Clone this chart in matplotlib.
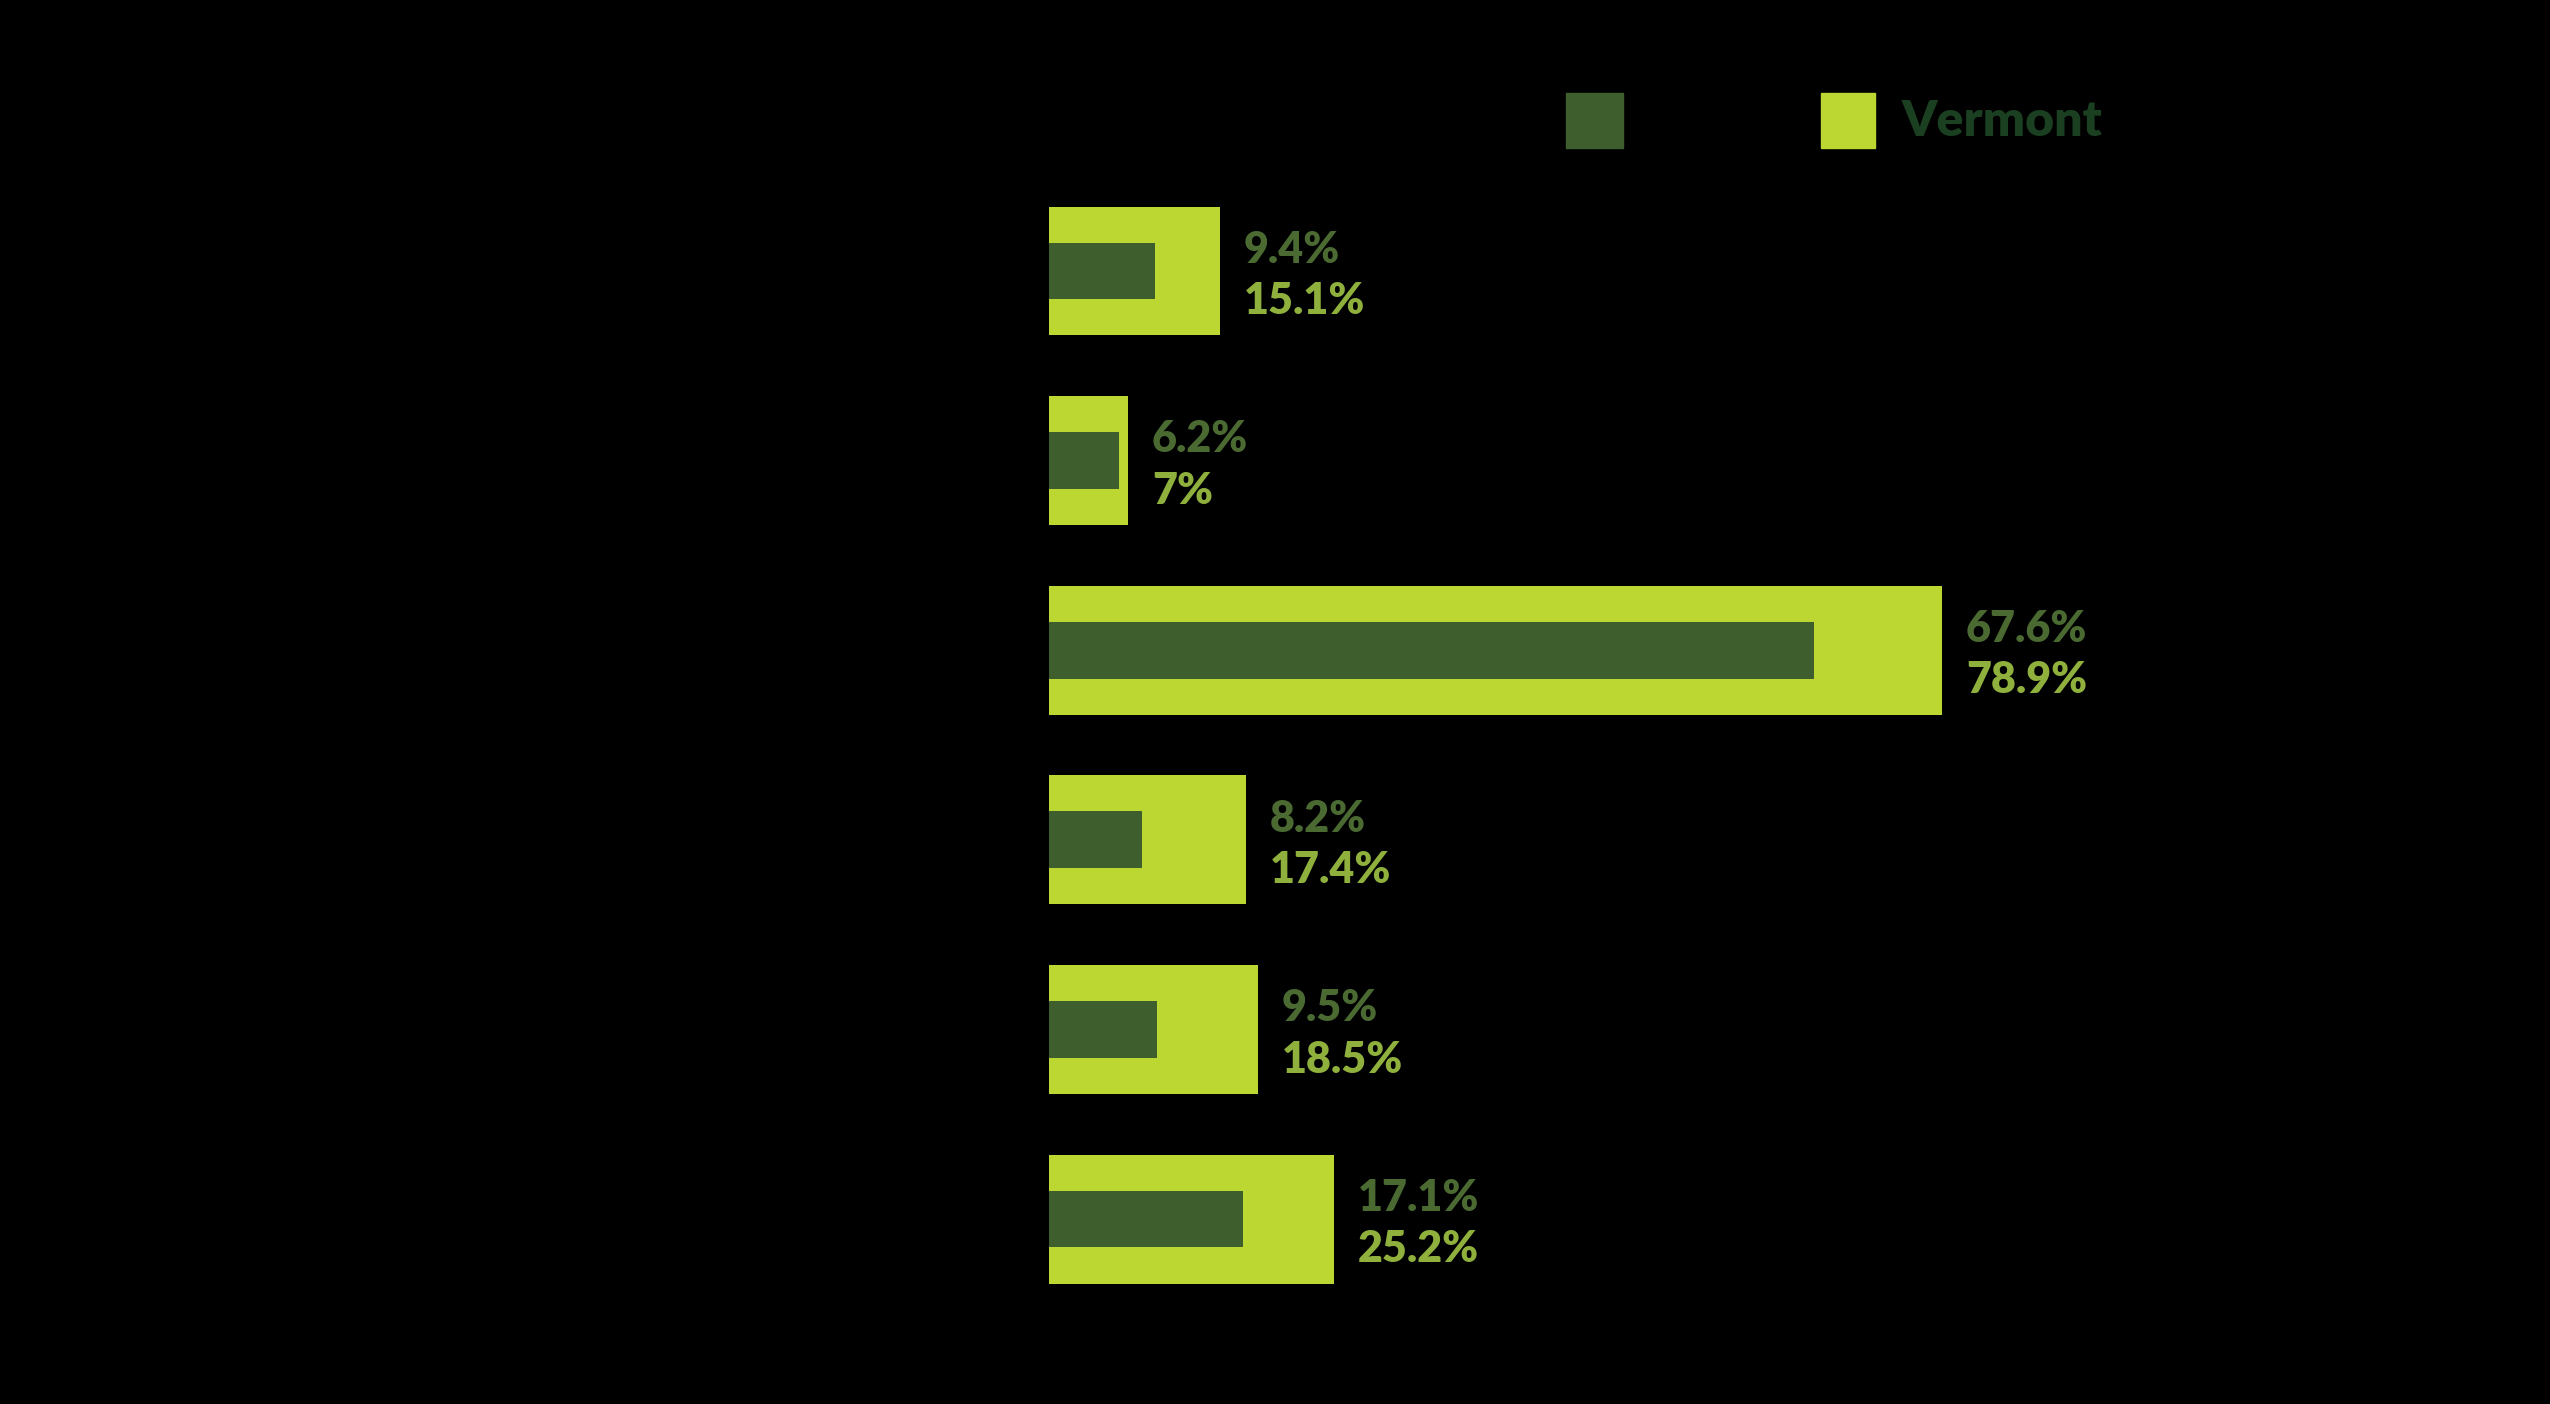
#!/usr/bin/env python3
"""bullet-style bar comparison, Vermont vs. reference"""

import matplotlib.pyplot as plt
from matplotlib.patches import Rectangle

# data (percent)
rows = [0, 1, 2, 3, 4, 5]
reference_vals = [9.4, 6.2, 67.6, 8.2, 9.5, 17.1]
vermont_vals = [15.1, 7.0, 78.9, 17.4, 18.5, 25.2]
reference_labels = ["9.4%", "6.2%", "67.6%", "8.2%", "9.5%", "17.1%"]
vermont_labels = ["15.1%", "7%", "78.9%", "17.4%", "18.5%", "25.2%"]

# colours
DARK = "#3f5e2d"
LIGHT = "#bcd632"
DARK_TXT = "#4a6a32"
LIGHT_TXT = "#8fb03c"
LEGEND_TXT = "#1b3f21"

plt.rcParams["font.family"] = ["Lato", "DejaVu Sans"]

fig = plt.figure(figsize=(25.5, 14.04), dpi=100, facecolor="black")
ax = fig.add_axes([0.4114, 0.0642, 0.4439, 0.8103])
ax.set_facecolor("black")

# wide light bars behind, narrow dark bars in front
ax.barh(rows, vermont_vals, height=0.68, color=LIGHT, zorder=1)
ax.barh(rows, reference_vals, height=0.30, color=DARK, zorder=2)

# value labels to the right of the light bar
for y, v, t1, t2 in zip(rows, vermont_vals, reference_labels, vermont_labels):
    ax.annotate(t1, (v, y), xytext=(17, 6), textcoords="offset points",
                ha="left", va="baseline", fontsize=31, fontweight="heavy",
                color=DARK_TXT)
    ax.annotate(t2, (v, y), xytext=(17, -31), textcoords="offset points",
                ha="left", va="baseline", fontsize=31, fontweight="heavy",
                color=LIGHT_TXT)

ax.set_xlim(0, 100)
ax.set_ylim(5.5, -0.5)
ax.axis("off")

# legend (manual squares)
fig.patches.append(Rectangle((1566 / 2550, 1 - 148 / 1404), 57 / 2550, 55 / 1404,
                             transform=fig.transFigure, color=DARK))
fig.patches.append(Rectangle((1821 / 2550, 1 - 148 / 1404), 54 / 2550, 55 / 1404,
                             transform=fig.transFigure, color=LIGHT))
fig.text(1902 / 2550, 1 - 121 / 1404, "Vermont", fontsize=36, fontweight="heavy",
         color=LEGEND_TXT, ha="left", va="center")

fig.savefig("out.png", dpi=100, facecolor="black")
